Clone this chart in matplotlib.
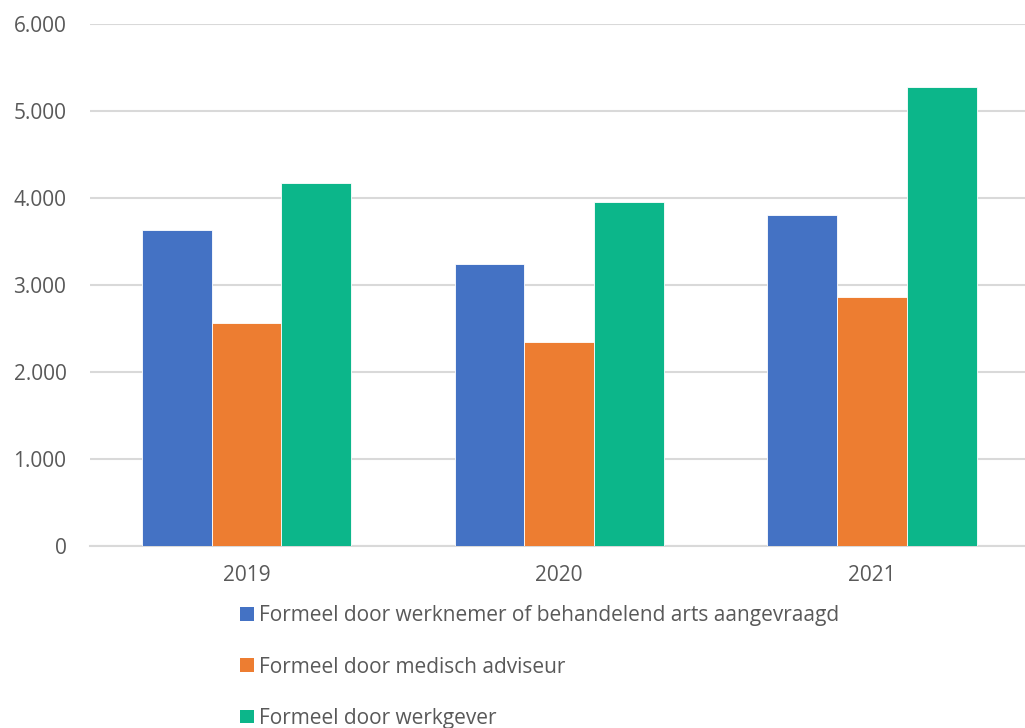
import matplotlib
matplotlib.use("Agg")
import matplotlib.pyplot as plt
import numpy as np
from matplotlib.patches import Patch

years = ["2019", "2020", "2021"]
series_names = [
    "Formeel door werknemer of behandelend arts aangevraagd",
    "Formeel door medisch adviseur",
    "Formeel door werkgever",
]
werknemer = [3630, 3240, 3805]
medisch = [2565, 2345, 2860]
werkgever = [4170, 3955, 5275]
colors = ["#4472C4", "#ED7D31", "#0CB68A"]
yticks = [0, 1000, 2000, 3000, 4000, 5000, 6000]

plt.rcParams['font.family'] = ['Open Sans', 'DejaVu Sans']
txt = "#595959"

fig = plt.figure(figsize=(10.25, 7.28), dpi=100)
ax = fig.add_axes([90/1025, 1-546/728, 938.5/1025, (546-24)/728])

x = np.arange(len(years))
w = 0.223
for i, (vals, c) in enumerate(zip([werknemer, medisch, werkgever], colors)):
    ax.bar(x + (i-1)*w, vals, w, color=c, edgecolor="white", linewidth=0.6, zorder=3)

ax.set_xlim(-0.5, 2.5)
ax.set_ylim(0, 6000)
ax.set_yticks(yticks)
ax.set_yticklabels([f"{v:,}".replace(",", ".") for v in yticks])
ax.set_xticks(x)
ax.set_xticklabels(years)
ax.tick_params(axis="both", length=0, labelsize=15, colors=txt)
ax.tick_params(axis="y", pad=17)
ax.tick_params(axis="x", pad=14)
ax.grid(axis="y", color="#D9D9D9", linewidth=1.5, zorder=0)
for s in ["top", "right", "left"]:
    ax.spines[s].set_visible(False)
ax.spines["bottom"].set_color("#D9D9D9")
ax.spines["bottom"].set_linewidth(1.5)

handles = [Patch(facecolor=c, edgecolor="none") for c in colors]
leg = fig.legend(handles, series_names, loc="upper left",
                 bbox_to_anchor=(230/1025, 1-595/728), frameon=False,
                 fontsize=15, handlelength=0.63, handleheight=0.63,
                 handletextpad=0.25, labelspacing=1.45, borderpad=0)
for t in leg.get_texts():
    t.set_color(txt)

fig.savefig("out.png", dpi=100)
